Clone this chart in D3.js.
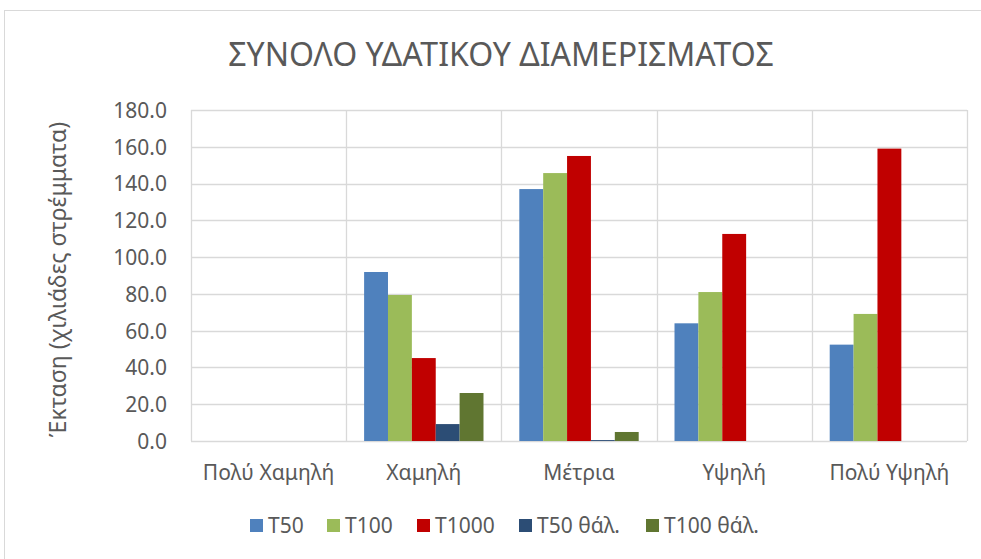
<!DOCTYPE html>
<html>
<head>
<meta charset="utf-8">
<script src="https://cdn.jsdelivr.net/npm/d3@7"></script>
<style>
  body { margin: 0; background: #fff; }
  text { font-family: "Noto Sans", sans-serif; fill: #595959; }
</style>
</head>
<body>
<svg width="981" height="559"></svg>
<script>
// data
const categories = ["Πολύ Χαμηλή", "Χαμηλή", "Μέτρια", "Υψηλή", "Πολύ Υψηλή"];
const seriesNames = ["T50", "T100", "T1000", "T50 θάλ.", "T100 θάλ."];
const seriesColors = ["#4f81bd", "#9bbb59", "#c00000", "#2c4d75", "#607631"];
const t50 = [0, 91.9, 137.0, 64.0, 52.4];
const t100 = [0, 79.4, 145.7, 81.0, 69.1];
const t1000 = [0, 45.1, 155.0, 112.6, 159.0];
const t50sea = [0, 9.2, 0.5, 0, 0];
const t100sea = [0, 26.1, 4.9, 0, 0];
const yTicks = [0, 20, 40, 60, 80, 100, 120, 140, 160, 180];

const seriesValues = [t50, t100, t1000, t50sea, t100sea];

const svg = d3.select("svg");

// chart frame
svg.append("rect")
    .attr("x", 4.5).attr("y", 10.5)
    .attr("width", 990).attr("height", 560)
    .attr("fill", "#fff").attr("stroke", "#d9d9d9");

const plotLeft = 191, plotRight = 967, plotTop = 110, plotBottom = 441;

const x = d3.scaleBand().domain(categories).range([plotLeft, plotRight]);
const y = d3.scaleLinear().domain([0, 180]).range([plotBottom, plotTop]);

// Excel style: gap width 150% -> 5 bars + 1.5 bar per category
const barW = x.bandwidth() / (seriesNames.length + 1.5);
const xs = d3.scaleBand().domain(seriesNames)
    .range([barW * 0.75, barW * 0.75 + barW * seriesNames.length]);

// gridlines
svg.append("g")
    .selectAll("line").data(yTicks).enter().append("line")
    .attr("x1", plotLeft).attr("x2", plotRight)
    .attr("y1", d => Math.round(y(d)) + 0.5).attr("y2", d => Math.round(y(d)) + 0.5)
    .attr("stroke", "#d9d9d9").attr("stroke-width", 1.3);

const bounds = categories.map(c => x(c)).concat([plotRight]);
svg.append("g")
    .selectAll("line").data(bounds).enter().append("line")
    .attr("x1", d => Math.round(d) + 0.5).attr("x2", d => Math.round(d) + 0.5)
    .attr("y1", plotTop).attr("y2", plotBottom)
    .attr("stroke", "#d9d9d9").attr("stroke-width", 1.3);

// bars
seriesNames.forEach(function (s, i) {
    svg.append("g")
        .selectAll("rect").data(seriesValues[i]).enter().append("rect")
        .attr("x", (d, j) => x(categories[j]) + xs(s))
        .attr("width", xs.bandwidth())
        .attr("y", d => y(d))
        .attr("height", d => y(0) - y(d))
        .attr("fill", seriesColors[i]);
});

// y axis labels
const yAxis = d3.axisLeft(y).tickValues(yTicks).tickFormat(d3.format(".1f")).tickSize(0).tickPadding(24);
const gy = svg.append("g").attr("transform", "translate(" + plotLeft + ",0)").call(yAxis);
gy.select(".domain").remove();
gy.selectAll("text").style("font-size", "21px").attr("fill", "#595959").attr("dy", "0.35em");

// x axis labels
const xAxis = d3.axisBottom(x).tickSize(0).tickPadding(0);
const gx = svg.append("g").attr("transform", "translate(0," + plotBottom + ")").call(xAxis);
gx.select(".domain").remove();
gx.selectAll("text").style("font-size", "21px").attr("fill", "#595959")
    .attr("y", 39).attr("dy", 0);

// title
svg.append("text")
    .attr("x", 501).attr("y", 66)
    .attr("text-anchor", "middle")
    .style("font-size", "32px")
    .text("ΣΥΝΟΛΟ ΥΔΑΤΙΚΟΥ ΔΙΑΜΕΡΙΣΜΑΤΟΣ");

// y axis title
svg.append("text")
    .attr("transform", "translate(66," + ((plotTop + plotBottom) / 2 + 4) + ") rotate(-90)")
    .attr("text-anchor", "middle")
    .style("font-size", "23px")
    .text("Έκταση (χιλιάδες στρέμματα)");

// legend
const legendX = [250, 327, 417, 519, 646];
const legend = svg.append("g").selectAll("g").data(seriesNames).enter().append("g")
    .attr("transform", (d, i) => "translate(" + legendX[i] + ",519)");
legend.append("rect").attr("width", 13).attr("height", 13).attr("fill", (d, i) => seriesColors[i]);
legend.append("text").attr("x", 18).attr("y", 14).style("font-size", "21px").text(d => d);
</script>
</body>
</html>
